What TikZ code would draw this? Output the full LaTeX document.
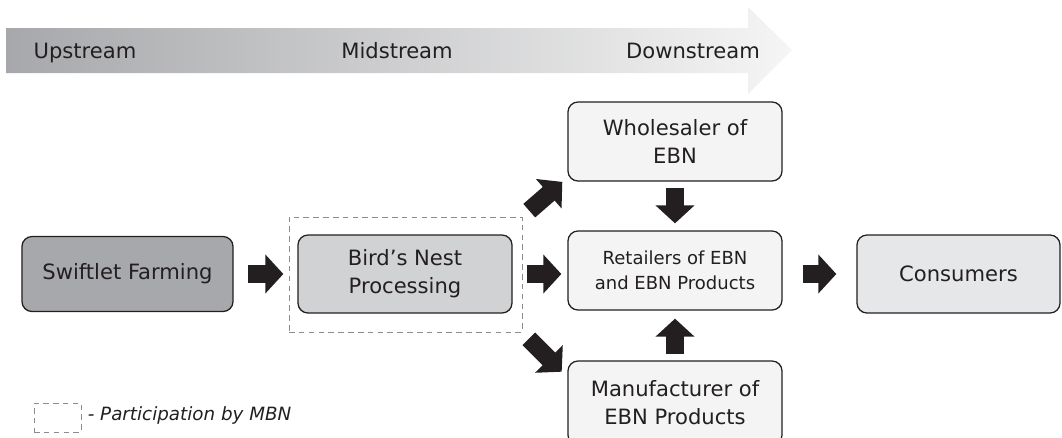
\documentclass[tikz,border=0pt]{standalone}
\usepackage{fontspec}
\setmainfont{DejaVu Sans}
\usetikzlibrary{arrows.meta}
\definecolor{ink}{HTML}{231F20}
\definecolor{farmgray}{HTML}{A7A8AB}
\definecolor{procgray}{HTML}{D1D2D4}
\definecolor{palegray}{HTML}{F4F4F4}
\definecolor{consgray}{HTML}{E6E7E8}
\definecolor{dashgray}{HTML}{8C8C8C}
\begin{document}
\begin{tikzpicture}[x=0.025cm, y=-0.025cm, semithick,
        stagebox/.style={draw=ink, line width=0.9pt, rounded corners=0.25cm, text=ink, align=center,
            inner sep=0pt, minimum width=5.35cm, minimum height=1.975cm, font=\fontsize{15}{20}\selectfont},
        flowarrow/.style={draw=ink, line width=0.45cm, -{Triangle[width=0.95cm, length=0.45cm]}},
        mbnline/.style={draw=dashgray, dash pattern=on 4pt off 3pt, line width=0.6pt, inner sep=0pt},
        streamlabel/.style={anchor=base, text=ink, font=\fontsize{15}{18}\selectfont}]
    \clip (0, 0) rectangle (1062, 437);
    % stream banner
    \shade[left color=farmgray, right color=palegray!90!white]
        (6, 28) -- (748, 28) -- (748, 7) -- (792, 50) -- (748, 94) -- (748, 73) -- (6, 73) -- cycle;
    \node[streamlabel] (upstream) at (85, 58) {Upstream};
    \node[streamlabel] (midstream) at (397, 58) {Midstream};
    \node[streamlabel] (downstream) at (693, 58) {Downstream};
    % stages
    \node[mbnline, minimum width=5.825cm, minimum height=2.875cm] (procbox) at (405.5, 274.5) {};
    \node[stagebox, fill=farmgray, minimum width=5.275cm, minimum height=1.875cm] (farm) at (127.5, 274) {Swiftlet Farming};
    \node[stagebox, fill=procgray, minimum height=1.95cm] (proc) at (405, 274) {Bird’s Nest\\Processing};
    \node[stagebox, fill=palegray] (whole) at (675, 141.5) {Wholesaler of\\EBN};
    \node[stagebox, fill=palegray, font=\fontsize{12.8}{17.5}\selectfont] (retail) at (675, 270.5) {Retailers of EBN\\and EBN Products};
    \node[stagebox, fill=palegray, minimum height=2.1cm] (manu) at (675, 403) {Manufacturer of\\EBN Products};
    \node[stagebox, fill=consgray, minimum width=5.075cm, minimum height=1.95cm] (cons) at (958.5, 274) {Consumers};
    % flows
    \draw[flowarrow, shorten <=0.35cm, shorten >=0.35cm] (farm.east) -- (farm.east -| proc.west);
    \draw[flowarrow, shorten <=0.35cm, shorten >=0.15cm] (proc.east) -- (proc.east -| retail.west);
    \draw[flowarrow, shorten <=0.225cm, shorten >=0.2cm] (procbox.north east) -- ([shift={(1, -5)}]whole.south west);
    \draw[flowarrow, shorten <=0.225cm, shorten >=0.2cm] (procbox.south east) -- ([shift={(0, 17)}]manu.north west);
    \draw[flowarrow, shorten <=0.15cm, shorten >=0.175cm] (whole.south) -- (retail.north);
    \draw[flowarrow, shorten <=0.15cm, shorten >=0.2cm] (manu.north) -- (retail.south);
    \draw[flowarrow, shorten <=0.5cm, shorten >=0.5cm] (cons.west -| retail.east) -- (cons.west);
    % legend
    \node[mbnline, minimum width=1.175cm, minimum height=0.725cm] (legbox) at (57.5, 417.5) {};
    \node[anchor=base west, inner sep=0pt, text=ink, font=\fontsize{13}{15}\selectfont\itshape] (legtext)
        at ([shift={(6, 2.5)}]legbox.east) {- Participation by MBN};
\end{tikzpicture}
\end{document}
